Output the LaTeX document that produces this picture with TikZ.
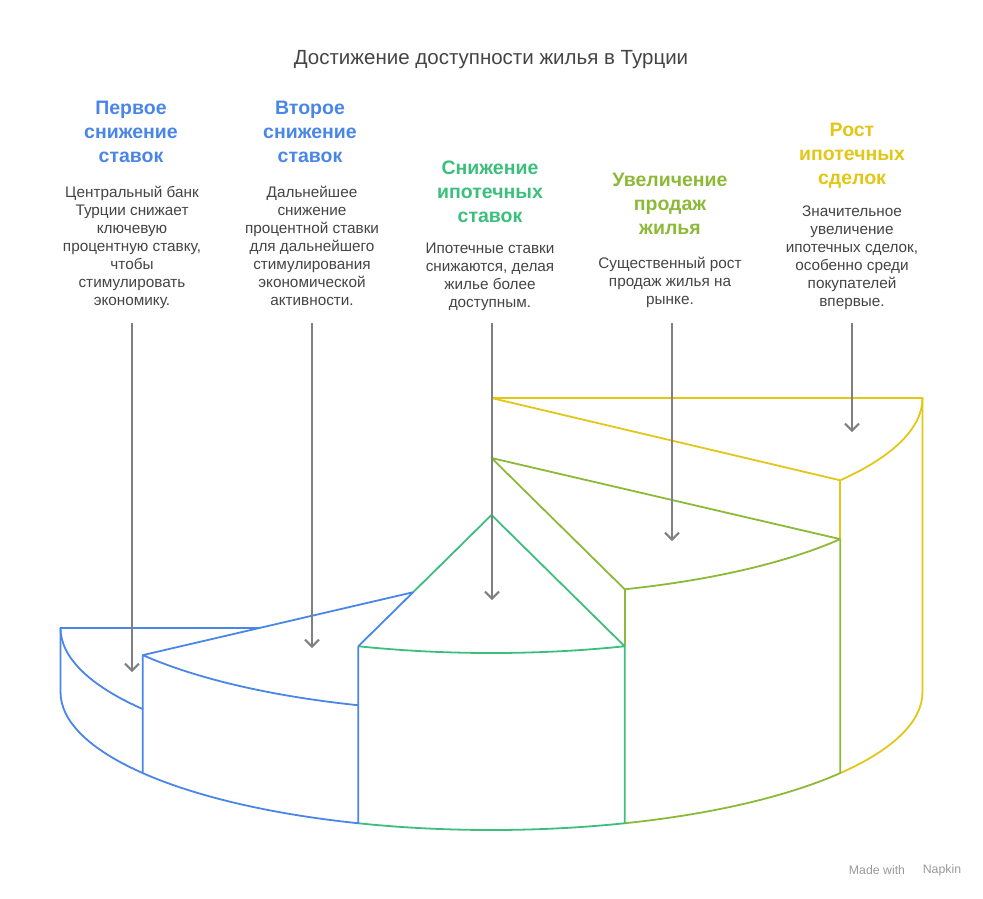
\documentclass[tikz,border=0pt]{standalone}
\usepackage{fontspec}
\setmainfont{Liberation Sans}
\usetikzlibrary{arrows.meta}

\definecolor{blueline}{RGB}{74,134,232}
\definecolor{greenline}{RGB}{60,190,125}
\definecolor{oliveline}{RGB}{141,185,56}
\definecolor{yellowline}{RGB}{226,198,24}
\definecolor{arrowgray}{RGB}{128,128,128}
\definecolor{textgray}{RGB}{68,68,68}

\newcommand{\hdfont}{\fontsize{19.5}{24}\selectfont\bfseries}
\newcommand{\txfont}{\fontsize{15.3}{18}\selectfont}
\newcommand{\rim}[3]{\path (491.5,#2) ++(#1:431 and 138) coordinate (#3);}

\begin{document}
\begin{tikzpicture}[x=1pt,y=-1pt,
  wall/.style={line width=1.8pt, line join=round},
  ptr/.style={arrowgray, line width=2pt, -{Straight Barb[length=7pt,width=14pt]}},
  head/.style={align=center, font=\hdfont},
  body/.style={align=center, font=\txfont, text=textgray}]
  \useasboundingbox (0,0) rectangle (983,898);

  % step centres and rim points
  \coordinate (Y0) at (491.5,398);
  \coordinate (O0) at (491.5,458);
  \coordinate (G0) at (491.5,515);
  \coordinate (B0) at (491.5,574);
  \coordinate (A0) at (491.5,628);
  \rim{0}{398}{Y1} \rim{36}{400}{Y2}
  \rim{36}{458}{O1} \rim{72}{458}{O2}
  \rim{72}{515}{G1} \rim{108}{515}{G2}
  \rim{108}{574}{B1} \rim{144}{574}{B2}
  \rim{144}{628}{A1} \rim{180}{628}{A2}
  \rim{0}{692}{F0} \rim{36}{692}{F1} \rim{72}{692}{F2}
  \rim{108}{692}{F3} \rim{144}{692}{F4} \rim{180}{692}{F5}
  \coordinate (X) at (intersection of B2--B0 and G2--G0);
  \coordinate (Z) at (intersection of A0--A2 and B2--B0);

  % yellow step
  \draw[wall,yellowline] (Y0) -- (Y1) arc[start angle=0,end angle=36,x radius=431,y radius=140] -- cycle;
  \draw[wall,yellowline] (Y1) -- (F0) arc[start angle=0,end angle=36,x radius=431,y radius=138];
  \draw[wall,yellowline] (Y2) -- (O1);
  % olive step
  \draw[wall,oliveline] (O0) -- (O1) arc[start angle=36,end angle=72,x radius=431,y radius=138] -- cycle;
  \draw[wall,oliveline] (O1) -- (F1) arc[start angle=36,end angle=72,x radius=431,y radius=138];
  \draw[wall,oliveline] (O2) -- (G1);
  % green step
  \draw[wall,greenline] (X) -- (G0) -- (G1) arc[start angle=72,end angle=108,x radius=431,y radius=138];
  \draw[wall,greenline] (G1) -- (F2) arc[start angle=72,end angle=108,x radius=431,y radius=138];
  % blue steps
  \draw[wall,blueline] (G2) -- (X) -- (B2) arc[start angle=144,end angle=108,x radius=431,y radius=138];
  \draw[wall,blueline] (G2) -- (F3) arc[start angle=108,end angle=144,x radius=431,y radius=138] -- (B2);
  \draw[wall,blueline] (Z) -- (A2) arc[start angle=180,end angle=144,x radius=431,y radius=138];
  \draw[wall,blueline] (A2) -- (F5) arc[start angle=180,end angle=144,x radius=431,y radius=138];

  % pointers
  \foreach \x/\tip [count=\i] in {132/672, 312/648, 492/600, 672/541, 852/432}{
    \coordinate (p\i) at (\x,323);
    \coordinate (q\i) at (\x,\tip);
    \draw[ptr] (p\i) -- (q\i);
  }

  % texts
  \node[font=\fontsize{20.5}{24}\selectfont, text=textgray] (title) at (491,60) {Достижение доступности жилья в Турции};

  \node[head, text=blueline] (h1) at (131,132) {Первое\\снижение\\ставок};
  \node[body] (b1) at (132,247) {Центральный банк\\Турции снижает\\ключевую\\процентную ставку,\\чтобы\\стимулировать\\экономику.};
  \node[head, text=blueline] (h2) at (310,132) {Второе\\снижение\\ставок};
  \node[body] (b2) at (312,246) {Дальнейшее\\снижение\\процентной ставки\\для дальнейшего\\стимулирования\\экономической\\активности.};
  \node[head, text=greenline] (h3) at (490,192) {Снижение\\ипотечных\\ставок};
  \node[body] (b3) at (490,277) {Ипотечные ставки\\снижаются, делая\\жилье более\\доступным.};
  \node[head, text=oliveline] (h4) at (670,204) {Увеличение\\продаж\\жилья};
  \node[body] (b4) at (670,282) {Существенный рост\\продаж жилья на\\рынке.};
  \node[head, text=yellowline] (h5) at (852,156) {Рост\\ипотечных\\сделок};
  \node[body] (b5) at (852,258) {Значительное\\увеличение\\ипотечных сделок,\\особенно среди\\покупателей\\впервые.};

  \node[font=\fontsize{12.3}{14}\selectfont, text=black!40] (made) at (877,870) {Made with};
  \node[font=\fontsize{12.3}{14}\selectfont, text=black!40] (napkin) at (942,870) {Napkin};
\end{tikzpicture}
\end{document}
